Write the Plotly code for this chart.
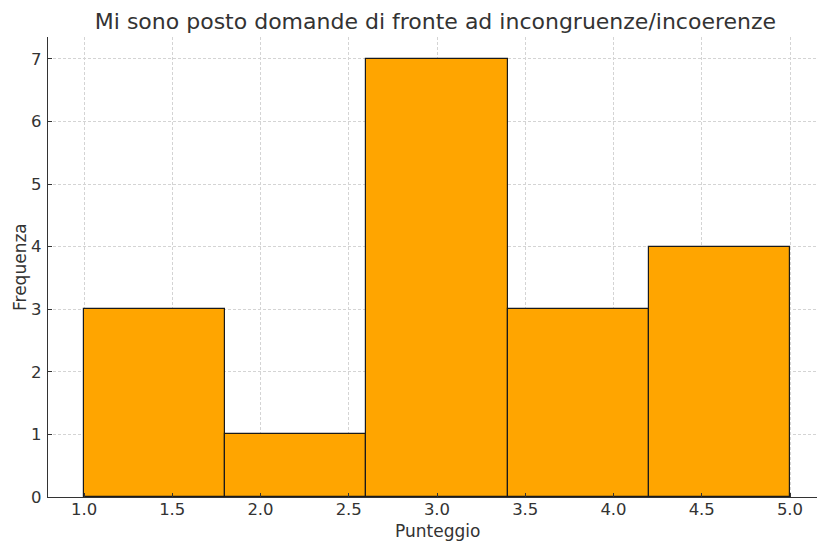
import plotly.graph_objects as go

bin_edges = [1.0, 1.8, 2.6, 3.4, 4.2, 5.0]
counts = [3, 1, 7, 3, 4]
x_ticks = [1.0, 1.5, 2.0, 2.5, 3.0, 3.5, 4.0, 4.5, 5.0]
y_ticks = [0, 1, 2, 3, 4, 5, 6, 7]

centers = [(a + b) / 2 for a, b in zip(bin_edges[:-1], bin_edges[1:])]
widths = [b - a for a, b in zip(bin_edges[:-1], bin_edges[1:])]

fig = go.Figure()
fig.add_trace(go.Bar(
    x=centers, y=counts, width=widths,
    marker=dict(color="#FFA500", line=dict(color="#1a1a1a", width=1.2)),
    hoverinfo="y",
))

axis_style = dict(
    showgrid=True, gridcolor="#d4d4d4", griddash="3px,2px", gridwidth=1,
    showline=True, linecolor="#333333", linewidth=1.2,
    ticks="inside", ticklen=4, tickcolor="#333333",
    tickfont=dict(size=16.5, color="#333333"),
    zeroline=False, layer="above traces", automargin=False,
)

fig.update_xaxes(axis_style, range=[0.796, 5.153], tickvals=x_ticks,
                 ticktext=[f"{v:.1f}" for v in x_ticks], ticklabelstandoff=-3)
fig.update_yaxes(axis_style, range=[0, 7.35], tickvals=y_ticks,
                 ticklabelstandoff=2)

# axis titles as annotations so they sit where matplotlib put them
fig.add_annotation(text="Punteggio", xref="x", yref="paper", x=3.0, y=0,
                   yshift=-34, yanchor="middle", showarrow=False,
                   font=dict(size=17, color="#333333"))
fig.add_annotation(text="Frequenza", xref="paper", yref="paper", x=0, y=0.5,
                   xshift=-28, xanchor="center", textangle=-90, showarrow=False,
                   font=dict(size=17, color="#333333"))

fig.update_layout(
    width=817, height=544,
    margin=dict(l=48, r=0, t=37, b=47),
    font=dict(family="DejaVu Sans", color="#333333"),
    title=dict(text="Mi sono posto domande di fronte ad incongruenze/incoerenze",
               x=0.533, xanchor="center", y=0.96, yanchor="middle",
               font=dict(size=22, color="#333333")),
    plot_bgcolor="white", paper_bgcolor="white",
    bargap=0, showlegend=False,
)

# drop the default page margin so the 817x544 figure sits flush in the window
fig.write_html("out.html", config={"displayModeBar": False},
               post_script="document.body.style.margin='0';"
                           "document.body.style.overflow='hidden';")
